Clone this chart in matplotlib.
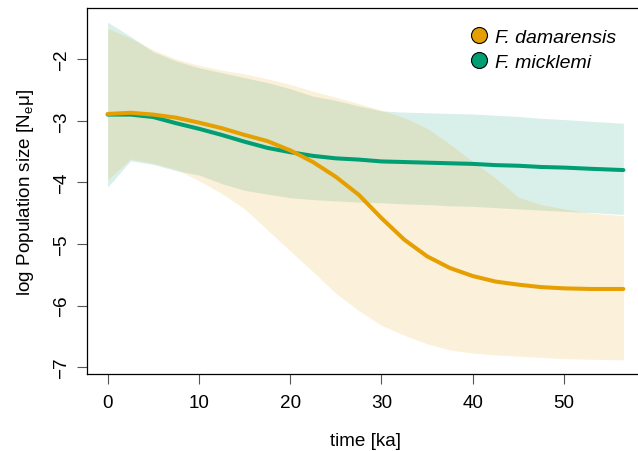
import numpy as np
import matplotlib
matplotlib.use("Agg")
import matplotlib.pyplot as plt
from matplotlib.lines import Line2D

plt.rcParams['font.family'] = ['Liberation Sans', 'DejaVu Sans']
plt.rcParams['mathtext.default'] = 'regular'

# time in ka
time = [0, 2.5, 5, 7.5, 10, 12.5, 15, 17.5, 20, 22.5, 25, 27.5, 30,
        32.5, 35, 37.5, 40, 42.5, 45, 47.5, 50, 53, 56.5]

# F. damarensis: median and band
dam_med = [-2.89, -2.87, -2.90, -2.95, -3.03, -3.12, -3.23, -3.33, -3.48, -3.67, -3.91, -4.20,
           -4.58, -4.93, -5.20, -5.39, -5.52, -5.61, -5.66, -5.70, -5.72, -5.73, -5.73]
dam_hi = [-1.50, -1.66, -1.85, -2.00, -2.10, -2.18, -2.24, -2.32, -2.41, -2.52, -2.62, -2.72,
          -2.83, -2.95, -3.12, -3.38, -3.66, -3.93, -4.24, -4.36, -4.43, -4.50, -4.54]
dam_lo = [-3.96, -3.62, -3.69, -3.79, -3.97, -4.18, -4.43, -4.77, -5.11, -5.45, -5.80, -6.08,
          -6.32, -6.48, -6.62, -6.72, -6.77, -6.80, -6.82, -6.84, -6.86, -6.87, -6.88]

# F. micklemi: median and band
mic_med = [-2.90, -2.90, -2.94, -3.04, -3.13, -3.23, -3.34, -3.44, -3.51, -3.57, -3.61, -3.63,
           -3.66, -3.67, -3.68, -3.69, -3.70, -3.72, -3.73, -3.75, -3.76, -3.78, -3.80]
mic_hi = [-1.40, -1.63, -1.88, -2.03, -2.14, -2.22, -2.30, -2.38, -2.48, -2.60, -2.67, -2.76,
          -2.84, -2.86, -2.87, -2.88, -2.89, -2.91, -2.93, -2.96, -2.98, -3.01, -3.04]
mic_lo = [-4.08, -3.65, -3.71, -3.81, -3.88, -4.02, -4.13, -4.19, -4.25, -4.28, -4.30, -4.32,
          -4.33, -4.35, -4.36, -4.38, -4.39, -4.41, -4.43, -4.45, -4.47, -4.49, -4.52]

orange = '#E69F00'
green = '#009E73'

fig = plt.figure(figsize=(6.38, 4.52), dpi=100)
ax = fig.add_axes([87/638, 1-375/452, (644-87)/638, (375-9)/452])

ax.fill_between(time, mic_lo, mic_hi, color=green, alpha=0.15, lw=0)
ax.fill_between(time, dam_lo, dam_hi, color=orange, alpha=0.15, lw=0)
ax.plot(time, mic_med, color=green, lw=2.9, solid_capstyle='round', solid_joinstyle='round')
ax.plot(time, dam_med, color=orange, lw=2.9, solid_capstyle='round', solid_joinstyle='round')

ax.set_xlim(-2.26, 58.76)
ax.set_ylim(-7.11, -1.17)
ax.set_xticks([0, 10, 20, 30, 40, 50])
ax.set_yticks([-7, -6, -5, -4, -3, -2])
ax.tick_params(axis='both', length=7.2, width=0.8, color='#555555', labelsize=13.6)
ax.tick_params(axis='x', pad=7)
ax.tick_params(axis='y', pad=5)
for lab in ax.get_yticklabels():
    lab.set_rotation(90)
    lab.set_va('center')
for sp in ax.spines.values():
    sp.set_linewidth(0.9)

ax.set_xlabel('time [ka]', fontsize=13.6, labelpad=15)
ax.set_ylabel('log Population size [N$_{e}$μ]', fontsize=13.6, labelpad=12)

handles = [Line2D([], [], ls='none', marker='o', markersize=11.5, markerfacecolor=c,
                  markeredgecolor='black', markeredgewidth=0.8) for c in (orange, green)]
leg = ax.legend(handles, ['F. damarensis', 'F. micklemi'], loc='upper left',
                bbox_to_anchor=(467/638, 1-29/452), bbox_transform=fig.transFigure,
                frameon=False, fontsize=14, handletextpad=0.25, labelspacing=0.38,
                handlelength=1.2, borderpad=0, borderaxespad=0)
for t in leg.get_texts():
    t.set_fontstyle('italic')

fig.savefig('out.png', dpi=100)
